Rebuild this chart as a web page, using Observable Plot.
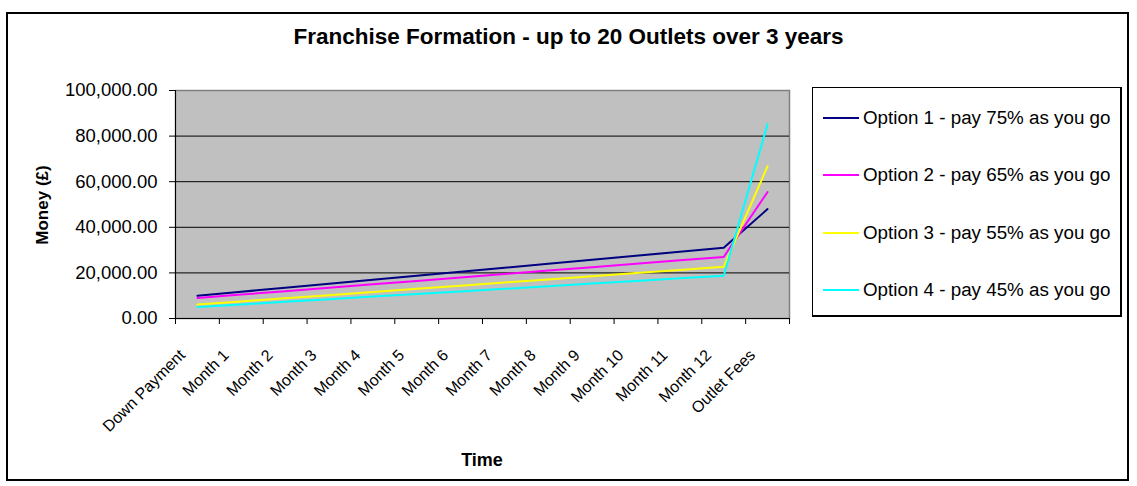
<!DOCTYPE html>
<html>
<head>
<meta charset="utf-8">
<script src="https://cdn.jsdelivr.net/npm/d3@7"></script>
<script src="https://cdn.jsdelivr.net/npm/@observablehq/plot@0.6"></script>
<style>
  html, body { margin: 0; padding: 0; background: #fff; }
  body { width: 1137px; height: 486px; position: relative; overflow: hidden; font-family: "Liberation Sans", Arial, sans-serif; }
  #frame { position: absolute; left: 6px; top: 12px; width: 1123px; height: 469px; border: 2px solid #000; box-sizing: border-box; }
  #chart { position: absolute; left: 0; top: 0; }
  #title { position: absolute; left: 0; width: 1137px; top: 24px; text-align: center; font-weight: bold; font-size: 22.5px; line-height: 26px; color: #000; }
  #ytitle { position: absolute; left: 43px; top: 205px; transform: translate(-50%, -50%) rotate(-90deg); font-weight: bold; font-size: 17px; white-space: nowrap; }
  #xtitle { position: absolute; left: 482px; top: 460px; transform: translate(-50%, -50%); font-weight: bold; font-size: 18px; white-space: nowrap; }
  #legend { position: absolute; left: 812px; top: 87px; width: 310px; height: 230px; border: 1px solid #000; border-right-width: 2px; border-bottom-width: 2px; box-sizing: border-box; background: #fff; }
  .item { position: absolute; left: 10px; height: 22px; display: flex; align-items: center; font-size: 18.8px; white-space: nowrap; }
  .swatch { width: 36px; height: 2px; margin-right: 4px; }
</style>
</head>
<body>
<div id="chart"></div>
<div id="frame"></div>
<div id="title"></div>
<div id="ytitle"></div>
<div id="xtitle"></div>
<div id="legend"></div>
<script>
const titleText = "Franchise Formation - up to 20 Outlets over 3 years";
const yTitle = "Money (£)";
const xTitle = "Time";
const categories = ["Down Payment", "Month 1", "Month 2", "Month 3", "Month 4", "Month 5", "Month 6",
  "Month 7", "Month 8", "Month 9", "Month 10", "Month 11", "Month 12", "Outlet Fees"];
const seriesNames = ["Option 1 - pay 75% as you go", "Option 2 - pay 65% as you go",
  "Option 3 - pay 55% as you go", "Option 4 - pay 45% as you go"];
const seriesColors = ["#000080", "#FF00FF", "#FFFF00", "#00FFFF"];
const option1 = [10000, 11750, 13500, 15250, 17000, 18750, 20500, 22250, 24000, 25750, 27500, 29250, 31000, 48000];
const option2 = [9000, 10500, 12000, 13500, 15000, 16500, 18000, 19500, 21000, 22500, 24000, 25500, 27000, 55500];
const option3 = [6100, 7500, 8850, 10250, 11650, 13000, 14400, 15800, 17150, 18550, 19950, 21300, 22700, 66800];
const option4 = [5000, 6150, 7300, 8450, 9600, 10700, 11850, 13000, 14150, 15300, 16450, 17600, 18750, 85300];
const yTicks = [0, 20000, 40000, 60000, 80000, 100000];

const allSeries = [option1, option2, option3, option4];
const rows = allSeries.flatMap((vals, s) => vals.map((v, i) => ({series: seriesNames[s], i, v})));
const idx = categories.map((c, i) => i);
const boundaries = d3.range(categories.length + 1).map(i => i - 0.5);
const xDomain = [-0.5, categories.length - 0.5];

document.getElementById("title").textContent = titleText;
document.getElementById("ytitle").textContent = yTitle;
document.getElementById("xtitle").textContent = xTitle;

const chart = Plot.plot({
  width: 1137,
  height: 486,
  marginLeft: 175,
  marginRight: 348,
  marginTop: 90,
  marginBottom: 168,
  style: {fontFamily: '"Liberation Sans", Arial, sans-serif', color: "#000", background: "transparent"},
  x: {domain: xDomain, label: null},
  y: {domain: [0, 100000], label: null},
  color: {domain: seriesNames, range: seriesColors},
  marks: [
    Plot.frame({fill: "#C0C0C0", stroke: "#808080", strokeWidth: 1.5}),
    Plot.ruleY(yTicks.filter(t => t > 0 && t < 100000), {stroke: "#000", strokeWidth: 1}),
    Plot.ruleY([0], {stroke: "#000", strokeWidth: 1}),
    Plot.ruleX([xDomain[0]], {stroke: "#000", strokeWidth: 1}),
    Plot.axisY({ticks: yTicks, tickFormat: d3.format(",.2f"), tickSize: 6, tickPadding: 12, fontSize: 18.5, label: null}),
    Plot.axisX({ticks: boundaries, tickFormat: () => "", tickSize: 6, label: null}),
    Plot.axisX({ticks: idx, tickFormat: i => categories[i], tickSize: 0, tickPadding: 34, dx: -15, tickRotate: -45, fontSize: 16, label: null}),
    ...seriesNames.map((name, s) =>
      Plot.line(rows.filter(r => r.series === name), {x: "i", y: "v", stroke: seriesColors[s], strokeWidth: 2}))
  ]
});
document.getElementById("chart").appendChild(chart);

const legend = document.getElementById("legend");
const rowTops = [19, 76, 134, 191];
seriesNames.forEach((name, s) => {
  const item = document.createElement("div");
  item.className = "item";
  item.style.top = rowTops[s] + "px";
  const sw = document.createElement("div");
  sw.className = "swatch";
  sw.style.background = seriesColors[s];
  const tx = document.createElement("span");
  tx.textContent = name;
  item.appendChild(sw);
  item.appendChild(tx);
  legend.appendChild(item);
});
</script>
</body>
</html>
